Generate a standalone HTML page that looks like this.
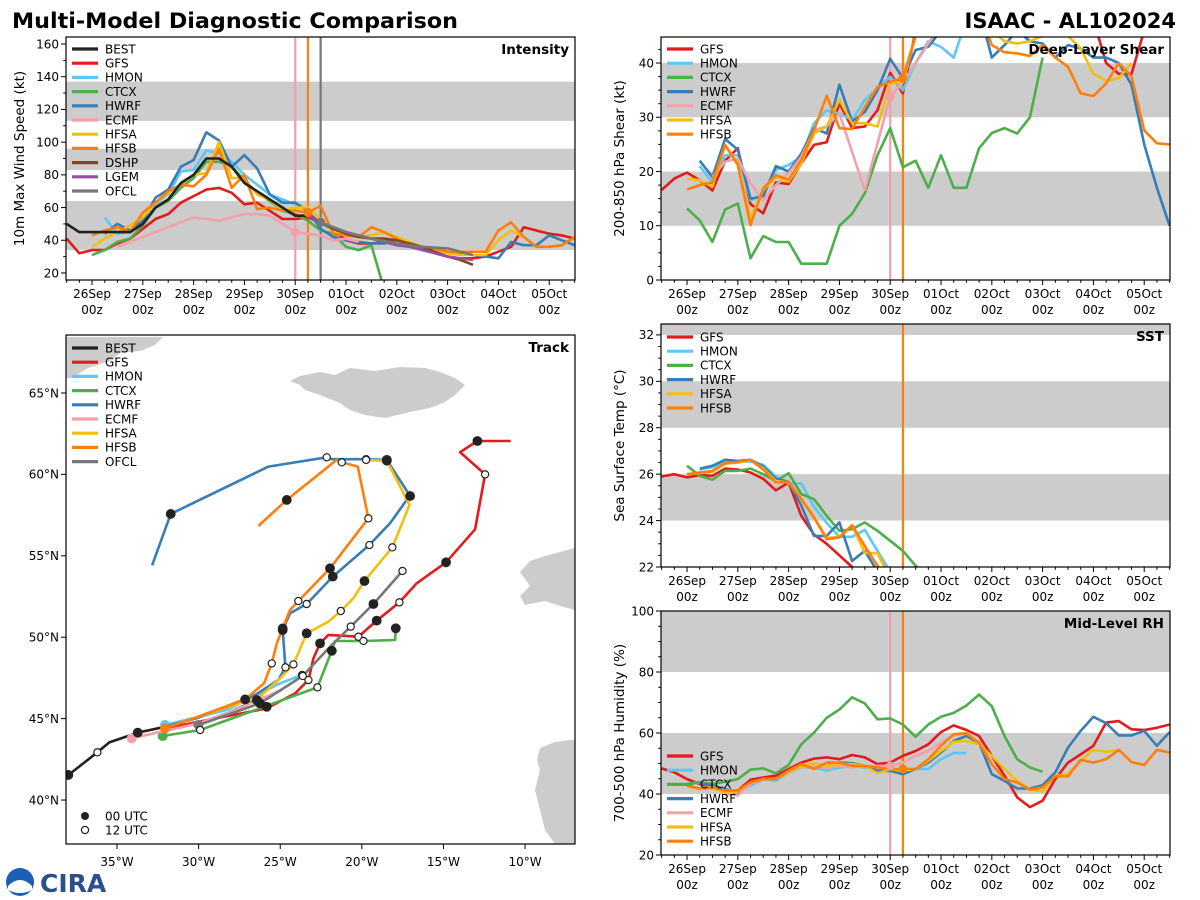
<!DOCTYPE html>
<html><head><meta charset="utf-8"><title>Multi-Model Diagnostic Comparison</title>
<style>
html,body{margin:0;padding:0;background:#fff;}
svg{display:block;font-family:"DejaVu Sans","Liberation Sans",sans-serif;}
</style></head>
<body>
<svg id="chart" width="1200" height="900" viewBox="0 0 1200 900" xmlns="http://www.w3.org/2000/svg">
<rect x="0" y="0" width="1200" height="900" fill="#fff"/>
<text x="12" y="28" font-size="21" font-weight="bold" textLength="446" lengthAdjust="spacingAndGlyphs">Multi-Model Diagnostic Comparison</text>
<text x="1176" y="28" font-size="21" font-weight="bold" text-anchor="end">ISAAC - AL102024</text>
<g>
<circle cx="20" cy="882" r="14" fill="#1a5fb4"/><path d="M8,886 Q20,874 32,886 L32,890 Q20,896 8,890Z" fill="#fff"/>
<text x="40" y="892" font-size="25" font-weight="bold" fill="#2a4f8a">CIRA</text>
</g>
</svg>
<script>
// ===== DATA (6-hourly steps relative to 26Sep 00z) =====
const dateLabels=['26Sep','27Sep','28Sep','29Sep','30Sep','01Oct','02Oct','03Oct','04Oct','05Oct'];
const intBEST=[50,45,45,45,45,45,50,60,65,75,80,90,90,85,75,70,65,60,55,55];
const intGFS=[41,32,34,34,38,41,47,53,56,63,67,71,72,69,62,63,58,53,53,54,51,46,40,38,38,39,41,38,35,32,30,29,29,30,33,36,48,46,44,43,41];
const intHMON=[54,44,45,50,62,68,82,83,95,93,88,80,74,68,65,62,58,50,46,43];
const intCTCX=[31,34,39,41,49,60,64,72,78,88,88,85,77,69,64,58,56,52,46,44,36,34,37,10];
const intHWRF=[44,50,46,52,66,71,85,89,106,101,85,92,84,68,63,63,58,47,42,40,39,38,38,40,38,35,34,33,32,31,30,29,39,37,37,43,40,37];
const intECMF=[36,39,42,45,48,51,54,53,52,54,56,56,55,50,45,44,43,40,41,39];
const intHFSA=[36,41,45,49,54,63,69,74,80,81,100,78,78,68,65,58,60,60,53,45,43,42,43,45,42,39,36,34,32,31,31,31,40,46,42];
const intHFSB=[43,46,48,45,57,63,70,74,73,80,96,72,80,59,60,58,58,57,61,44,43,42,48,45,41,37,36,35,33,33,33,33,46,51,42,36,36,37,42];
const intDSHP=[56,51,47,44,42,41,41,40,38,36,33,30,28,25];
const intLGEM=[55,51,48,45,43,41,39,37,36,34,32,30,29,28];
const intOFCL=[51,45,41,38,36,35,31];
const intStart={BEST:-2,GFS:-2,HMON:1,CTCX:0,HWRF:1,ECMF:2,HFSA:0,HFSB:0,DSHP:17,LGEM:17,OFCL:18};
const intStep={OFCL:2};

const shrGFS=[16.6,18.7,19.8,18.4,16.5,22,24.3,14,12.3,18,17.7,21.5,24.9,25.4,32.6,28,28.3,31.3,38.2,34.4,46,50,52,55,55,55,55,55,55,55,55,55,55,55,48,40,38,38,46,55];
const shrHMON=[21,18,23,23,14.7,15.7,20.3,21.2,22.7,28.9,31.3,30.7,29.5,33.2,35.3,37.5,35,40,44,43,41,48,52];
const shrCTCX=[13.2,11,7,13,14.1,4,8.1,7,7,3,3,3,10,12.2,16,23,28,20.8,22,17,23,17,17,24.3,27.1,28,27,30,41];
const shrHWRF=[22,19,26,24,15,15.4,21,20,23.3,28,27,36,29.2,31,35,40.8,37.2,42.4,43,46,50,52,50,41,43.3,46,44,43.6,41,43.3,42.7,41,41,40,36,25,17,10];
const shrECMF=[19,21.8,22.4,17.8,14.7,17.5,19.7,22.7,27.6,28.3,30.7,23.6,16.6,25.2,33.8,36.5,40,43.6,47];
const shrHFSA=[18.7,18.4,17.2,24.9,21.5,11.4,16.6,19,18.1,21.5,27,28.3,33.2,28.9,28.9,28.3,36.2,36.5,45,50,52,52,52,50,46,44,43.6,44,45,45.5,45,42.7,38,36.7,37.2,40];
const shrHFSB=[16.7,17.5,18,24.9,21.2,10.1,16.9,19.3,18.5,22.1,27.6,34,28,27.8,31.9,35.6,36.5,37.2,45,50,52,52,52,50,43.3,42,41.8,41.3,43.3,41,39.3,34.4,33.9,36.2,40,37.5,27.6,25.2,25];
const shrStart={GFS:-2,HMON:1,CTCX:0,HWRF:1,ECMF:2,HFSA:0,HFSB:0};

const sstGFS=[25.9,26,25.86,25.96,25.93,26.24,26.2,26.07,25.8,25.3,25.64,24.2,23.4,23,22.5,22,21.5];
const sstHMON=[26.2,26.3,26.5,26.55,26.55,26.4,25.9,25.6,25.6,24.6,23.9,23.3,23.3,23.6,22.7,21.8];
const sstCTCX=[26.36,25.93,25.76,26.14,26.14,26.24,26,25.7,26.04,25.14,24.92,24.2,23.56,23.63,23.92,23.56,23.13,22.7,22.05,21.6];
const sstHWRF=[26.24,26.36,26.62,26.57,26.62,26.33,25.8,25.67,24.64,23.34,23.34,23.92,22.26,22.7,21.8];
const sstHFSA=[26,26.05,26.1,26.45,26.5,26.6,26.25,25.7,25.65,24.95,24.15,23.25,23.3,23.8,22.6,22.6,21.5];
const sstHFSB=[26,26.07,26.14,26.47,26.53,26.62,26.2,25.64,25.67,24.92,24.13,23.2,23.27,23.8,22.9,22.05,21.5];
const sstStart={GFS:-2,HMON:1,CTCX:0,HWRF:1,HFSA:0,HFSB:0};

const rhGFS=[48.4,47.1,44.9,43.3,42.2,40.8,41.1,44.7,45.4,46,48.2,50.3,51.6,52,51.4,52.8,52,49.8,50.3,52.5,54.1,56.3,60.3,62.5,61,59,52.5,46,38.9,35.7,37.8,44.9,50.3,53,55.8,63.4,63.9,61.2,61,61.7,62.8];
const rhHMON=[43.3,44,42.2,40.5,40.5,42.7,44.9,44.3,47.1,48.7,48.7,47.6,48.7,49.2,48.7,48.2,48.2,47.6,48.2,48.2,51.4,53.4,53.4];
const rhCTCX=[43.3,43.8,43.3,44,44.9,48,48.4,46.8,49.5,56.3,60.1,65,67.7,71.7,69.7,64.5,64.8,62.8,58.8,62.8,65.3,66.6,69,72.6,68.8,59,51.4,48.7,47.3];
const rhHWRF=[43.6,42.9,41.6,40.5,43.3,44.9,45.1,47.6,49.2,48.7,49.2,50.3,50.1,49.2,47.6,47.6,46.5,48.2,50.3,53.6,57.4,59,56.8,46.5,44.3,41.8,41.8,42.9,47.1,55.2,60.7,65.3,63.2,59.2,59.2,60.7,55.8,60.3];
const rhECMF=[42.2,40,39.5,43.3,44.9,44.9,47.6,48.7,49.2,48.4,49.2,48.7,49.2,49.2,49.2,50.3,52.5,54.1,56.8,59.2,59.9];
const rhHFSA=[42.7,41.6,41.8,40.5,40.8,43.8,44.9,44.9,47.1,49.2,50.1,49.2,49.8,49.8,49.2,46.8,48.2,47.6,48.2,50.9,54.1,57.1,57.4,56.3,52.5,48.2,44.3,41.6,40.8,46,46.5,50.9,54.5,53.8,54.5];
const rhHFSB=[42.7,41.8,42.2,41.1,41.1,43.8,44.9,44.9,47.6,49.8,48.2,50.3,50.3,49.2,49.2,48.7,48.2,48.2,48.2,51.4,55.8,59.6,59.9,56.8,49.8,44.9,43.8,41.4,42.2,45.8,45.8,51.2,50.3,51.4,54.5,50.5,49.5,54.5,53.6];
const rhStart={GFS:-2,HMON:0,CTCX:0,HWRF:1,ECMF:2,HFSA:0,HFSB:0};

// track positions (lon, lat) and 00/12 UTC markers
const trkBESTlon=[-37.98,-36.20,-35.47,-33.73,-32.06,-30.01,-28.28,-26.44,-25.83];
const trkBESTlat=[41.54,42.93,43.54,44.14,44.50,44.71,45.32,46.14,45.73];
const trkBESTmk=['f','o','','f','','','','f','f'];
const trkGFSlon=[-32.06,-25.83,-24.09,-23.27,-22.97,-22.56,-22.05,-20.21,-19.09,-17.70,-16.64,-14.84,-13.06,-12.45,-13.98,-12.92,-10.88];
const trkGFSlat=[44.40,45.63,46.55,47.37,48.70,49.62,50.14,50.03,51.02,52.14,53.31,54.60,56.63,60.00,61.36,62.05,62.05];
const trkGFSmk=['','','','o','','f','','o','f','o','','f','','o','','f',''];
const trkHMONlon=[-32.06,-28.28,-25.01,-23.66];
const trkHMONlat=[44.61,45.53,47.17,47.68];
const trkHMONmk=['','','','o'];
const trkCTCXlon=[-32.20,-29.91,-22.72,-21.84,-21.64,-19.90,-17.96,-17.92];
const trkCTCXlat=[43.93,44.30,46.92,49.17,49.77,49.77,49.83,50.55];
const trkCTCXmk=['','o','o','f','','o','','f'];
const trkHWRFlon=[-32.06,-30.12,-26.54,-25.11,-24.68,-24.85,-24.40,-23.38,-21.78,-19.54,-18.27,-17.25,-17.04,-18.47,-19.74,-21.84,-22.15,-25.72,-31.71,-32.85];
const trkHWRFlat=[44.50,45.02,46.45,47.37,48.15,50.44,51.47,52.04,53.72,55.66,57.00,58.43,58.67,60.89,60.93,60.93,61.05,60.48,57.57,54.41];
const trkHWRFmk=['','','','','o','f','','o','f','o','','','f','f','o','','o','','f',''];
const trkECMFlon=[-34.10,-30.01,-28.28,-24.91];
const trkECMFlat=[43.79,44.71,45.32,46.76];
const trkECMFmk=['','','',''];
const trkHFSAlon=[-32.06,-30.32,-26.24,-25.01,-24.19,-23.38,-22.05,-21.29,-20.52,-19.84,-18.13,-17.08,-18.47,-19.74];
const trkHFSAlat=[44.40,45.02,46.35,47.47,48.33,50.24,50.95,51.61,52.39,53.45,55.52,58.12,60.84,60.89];
const trkHFSAmk=['','','','','o','f','','o','','f','o','','f','o'];
const trkHFSBlon=[-32.06,-30.32,-27.15,-25.99,-25.52,-25.21,-24.85,-24.40,-23.89,-21.95,-19.60,-20.25,-21.23,-21.54,-22.56,-24.60,-26.34];
const trkHFSBlat=[44.40,45.02,46.18,47.17,48.39,49.62,50.54,51.67,52.22,54.23,57.30,60.48,60.74,60.89,60.07,58.43,56.83];
const trkHFSBmk=['','','f','','o','','f','','o','f','o','','o','','','f',''];
const trkOFCLlon=[-30.01,-26.24,-23.62,-21.95,-20.68,-19.29,-17.51];
const trkOFCLlat=[44.61,45.94,47.62,49.42,50.65,52.04,54.07];
const trkOFCLmk=['','f','o','','o','f','o'];

// ===== STYLE =====
const COL={BEST:'#222222',GFS:'#e41a1c',HMON:'#5bc8f5',CTCX:'#4daf4a',HWRF:'#377eb8',ECMF:'#f4a0ab',HFSA:'#f2be0f',HFSB:'#ff7f0e',DSHP:'#8b4513',LGEM:'#984ea3',OFCL:'#777777'};
const NS='http://www.w3.org/2000/svg';
const svg=document.getElementById('chart');
function mk(tag,attrs,parent){const e=document.createElementNS(NS,tag);for(const k in attrs)e.setAttribute(k,attrs[k]);(parent||svg).appendChild(e);return e;}
function txt(s,attrs,parent){const e=mk('text',attrs,parent);e.textContent=s;return e;}

function makePanel(p){
  p.sx=v=>p.l+(v-p.xmin)/(p.xmax-p.xmin)*(p.r-p.l);
  p.sy=v=>p.b-(v-p.ymin)/(p.ymax-p.ymin)*(p.b-p.t);
  const g=mk('g',{});
  
  
  p.g=g;
  const cp=mk('clipPath',{id:'clip-'+p.name},g);
  mk('rect',{x:p.l,y:p.t,width:p.r-p.l,height:p.b-p.t},cp);
  p.clipG=mk('g',{'clip-path':'url(#clip-'+p.name+')'},g);
  (p.bands||[]).forEach(b=>{
    const r=mk('rect',{x:p.l,y:p.sy(b[1]),width:p.r-p.l,height:p.sy(b[0])-p.sy(b[1]),fill:'#cccccc'},p.clipG);
    
    
  });
  return p;
}
function frame(p){
  const f=mk('rect',{x:p.l,y:p.t,width:p.r-p.l,height:p.b-p.t,fill:'none',stroke:'#000','stroke-width':1.2},p.g);
  
  
  const t=txt(p.title,{x:p.r-6,y:p.t+17,'font-size':13.5,'font-weight':'bold','text-anchor':'end'},p.g);
  
  
}
function timeAxis(p){
  const ax=mk('g',{},p.g);
  
  
  for(let s=-2;s<=38;s++){
    const x=p.sx(s); const major=(s%4===0);
    mk('line',{x1:x,x2:x,y1:p.b,y2:p.b+(major?5:2.8),stroke:'#000','stroke-width':1},ax);
  }
  dateLabels.forEach((d,i)=>{
    const x=p.sx(i*4);
    const t1=txt(d,{x:x,y:p.b+18,'font-size':12,'text-anchor':'middle'},ax);
    
    
    const t2=txt('00z',{x:x,y:p.b+34,'font-size':12,'text-anchor':'middle'},ax);
    
    
  });
}
function yAxis(p,major,minor,label,lx){
  const ax=mk('g',{},p.g);
  
  
  const eps=1e-6;
  for(let v=Math.ceil(p.ymin/minor)*minor;v<=p.ymax+eps;v+=minor){
    const y=p.sy(v); const isMaj=Math.abs(v/major-Math.round(v/major))<1e-6;
    mk('line',{x1:p.l,x2:p.l-(isMaj?5:2.8),y1:y,y2:y,stroke:'#000','stroke-width':1},ax);
    if(isMaj){
      const t=txt(String(Math.round(v)),{x:p.l-7,y:y+4.3,'font-size':12,'text-anchor':'end'},ax);
      
      
    }
  }
  const cy=(p.t+p.b)/2;
  const t=txt(label,{x:lx,y:cy,'font-size':13.5,'text-anchor':'middle',transform:'rotate(-90 '+lx+' '+cy+')'},ax);
  
  
}
function series(p,key,vals,start,step){
  step=step||1;
  const pts=vals.map((v,i)=>p.sx(start+i*step).toFixed(1)+','+p.sy(v).toFixed(1)).join(' ');
  const l=mk('polyline',{points:pts,fill:'none',stroke:COL[key],'stroke-width':2.6,'stroke-linejoin':'round'},p.clipG);
  
  
}
function vline(p,s,color,key){
  const l=mk('line',{x1:p.sx(s),x2:p.sx(s),y1:p.t,y2:p.b,stroke:color,'stroke-width':2.2},p.clipG);
  
  
}
function dot(p,x,y,color,r){
  const c=mk('circle',{cx:x,cy:y,r:r||4.5,fill:color},p.clipG);
  
  
}
function legend(p,keys,y0){
  const lg=mk('g',{},p.g);
  
  
  keys.forEach((k,i)=>{
    const y=y0+i*14.2;
    const e=mk('g',{},lg);
    
    
    mk('line',{x1:p.l+6,x2:p.l+32,y1:y,y2:y,stroke:COL[k],'stroke-width':3.2},e);
    txt(k,{x:p.l+39,y:y+4.3,'font-size':12},e);
  });
}
function valAt(arr,start,s,step){step=step||1;return arr[(s-start)/step];}

// ===== INTENSITY =====
const pI=makePanel({name:'intensity',title:'Intensity',l:66,t:37,r:575,b:280,xmin:-2.05,xmax:38.03,ymin:15.7,ymax:164.3,bands:[[34,64],[83,96],[113,137]]});
const intData={GFS:intGFS,HMON:intHMON,CTCX:intCTCX,HWRF:intHWRF,ECMF:intECMF,HFSA:intHFSA,HFSB:intHFSB,DSHP:intDSHP,LGEM:intLGEM,OFCL:intOFCL,BEST:intBEST};
vline(pI,16,COL.ECMF,'ecmf');vline(pI,17,COL.HFSB,'hfsb');vline(pI,18,COL.OFCL,'ofcl');
Object.keys(intData).forEach(k=>series(pI,k,intData[k],intStart[k],intStep[k]));
dot(pI,pI.sx(16),pI.sy(valAt(intECMF,intStart.ECMF,16)),COL.ECMF);
dot(pI,pI.sx(17),pI.sy(valAt(intHFSB,intStart.HFSB,17)),COL.HFSB);
dot(pI,pI.sx(18),pI.sy(valAt(intOFCL,intStart.OFCL,18,2)),COL.OFCL);
frame(pI);timeAxis(pI);yAxis(pI,20,10,'10m Max Wind Speed (kt)',24);
legend(pI,['BEST','GFS','HMON','CTCX','HWRF','ECMF','HFSA','HFSB','DSHP','LGEM','OFCL'],49);

// ===== SHEAR =====
const pS=makePanel({name:'shear',title:'Deep-Layer Shear',l:661,t:37,r:1170,b:280,xmin:-2.05,xmax:38.03,ymin:0,ymax:44.8,bands:[[10,20],[30,40]]});
const shrData={GFS:shrGFS,HMON:shrHMON,CTCX:shrCTCX,HWRF:shrHWRF,ECMF:shrECMF,HFSA:shrHFSA,HFSB:shrHFSB};
vline(pS,16,COL.ECMF,'ecmf');vline(pS,17,COL.HFSB,'hfsb');
Object.keys(shrData).forEach(k=>series(pS,k,shrData[k],shrStart[k]));
dot(pS,pS.sx(16),pS.sy(valAt(shrECMF,shrStart.ECMF,16)),COL.ECMF);
dot(pS,pS.sx(17),pS.sy(valAt(shrHFSB,shrStart.HFSB,17)),COL.HFSB);
frame(pS);timeAxis(pS);yAxis(pS,10,2.5,'200-850 hPa Shear (kt)',624);
legend(pS,['GFS','HMON','CTCX','HWRF','ECMF','HFSA','HFSB'],49);

// ===== SST =====
const pT=makePanel({name:'sst',title:'SST',l:661,t:324,r:1170,b:567,xmin:-2.05,xmax:38.03,ymin:22,ymax:32.47,bands:[[24,26],[28,30],[32,34]]});
const sstData={GFS:sstGFS,HMON:sstHMON,CTCX:sstCTCX,HWRF:sstHWRF,HFSA:sstHFSA,HFSB:sstHFSB};
vline(pT,17,COL.HFSB,'hfsb');
Object.keys(sstData).forEach(k=>series(pT,k,sstData[k],sstStart[k]));
frame(pT);timeAxis(pT);yAxis(pT,2,0.5,'Sea Surface Temp (°C)',624);
legend(pT,['GFS','HMON','CTCX','HWRF','HFSA','HFSB'],337);

// ===== RH =====
const pR=makePanel({name:'rh',title:'Mid-Level RH',l:661,t:611,r:1170,b:855,xmin:-2.05,xmax:38.03,ymin:20,ymax:100,bands:[[40,60],[80,100]]});
const rhData={GFS:rhGFS,HMON:rhHMON,CTCX:rhCTCX,HWRF:rhHWRF,ECMF:rhECMF,HFSA:rhHFSA,HFSB:rhHFSB};
vline(pR,16,COL.ECMF,'ecmf');vline(pR,17,COL.HFSB,'hfsb');
Object.keys(rhData).forEach(k=>series(pR,k,rhData[k],rhStart[k]));
dot(pR,pR.sx(16),pR.sy(valAt(rhECMF,rhStart.ECMF,16)),COL.ECMF);
dot(pR,pR.sx(17),pR.sy(valAt(rhHFSB,rhStart.HFSB,17)),COL.HFSB);
frame(pR);timeAxis(pR);yAxis(pR,20,5,'700-500 hPa Humidity (%)',624);
legend(pR,['GFS','HMON','CTCX','HWRF','ECMF','HFSA','HFSB'],756);

// ===== TRACK =====
const pK=makePanel({name:'track',title:'Track',l:66,t:335,r:575,b:844,xmin:-38.125,xmax:-6.94,ymin:37.3,ymax:68.56});
const land=[
 '66,337 163,337 155,345 140,351 120,353 110,361 88,368 72,378 66,378',
 '290,381 300,376 320,372 335,375 350,368 375,371 400,367 425,368 440,372 455,378 465,385 455,395 445,402 430,408 410,412 385,418 365,415 350,410 340,403 320,395 305,390 300,385',
 '520,572 530,561 545,556 560,552 575,548 575,610 560,606 545,601 525,605 520,596 530,586',
 '540,748 555,742 570,740 575,740 575,844 555,844 545,830 540,810 535,790 540,770 537,760'];
land.forEach(pt=>{
  const l=mk('polygon',{points:pt,fill:'#cccccc'},pK.clipG);
  
  
});
const trk={BEST:[trkBESTlon,trkBESTlat,trkBESTmk],GFS:[trkGFSlon,trkGFSlat,trkGFSmk],HMON:[trkHMONlon,trkHMONlat,trkHMONmk],CTCX:[trkCTCXlon,trkCTCXlat,trkCTCXmk],HWRF:[trkHWRFlon,trkHWRFlat,trkHWRFmk],ECMF:[trkECMFlon,trkECMFlat,trkECMFmk],HFSA:[trkHFSAlon,trkHFSAlat,trkHFSAmk],HFSB:[trkHFSBlon,trkHFSBlat,trkHFSBmk],OFCL:[trkOFCLlon,trkOFCLlat,trkOFCLmk]};
Object.keys(trk).forEach(k=>{
  const [lo,la]=trk[k];
  const pts=lo.map((v,i)=>pK.sx(v).toFixed(1)+','+pK.sy(la[i]).toFixed(1)).join(' ');
  const l=mk('polyline',{points:pts,fill:'none',stroke:COL[k],'stroke-width':2.6,'stroke-linejoin':'round'},pK.clipG);
  
  
  if(k!=='BEST'&&k!=='GFS'&&k!=='HWRF'&&k!=='HFSA') dot(pK,pK.sx(lo[0]),pK.sy(la[0]),COL[k],5);
});
Object.keys(trk).forEach(k=>{
  const [lo,la,m]=trk[k];
  m.forEach((t,i)=>{
    if(!t)return;
    const c=mk('circle',{cx:pK.sx(lo[i]),cy:pK.sy(la[i]),r:t==='f'?4.3:3.6,fill:t==='f'?'#222':'#fff',stroke:'#222','stroke-width':1.2},pK.clipG);
    
    
  });
});
frame(pK);
const kx=mk('g',{},pK.g);


[-35,-30,-25,-20,-15,-10].forEach(v=>{
  const x=pK.sx(v);
  mk('line',{x1:x,x2:x,y1:pK.b,y2:pK.b+5,stroke:'#000'},kx);
  const t=txt(Math.abs(v)+'°W',{x:x,y:pK.b+22,'font-size':12,'text-anchor':'middle'},kx);
  
  
});
const ky=mk('g',{},pK.g);


[40,45,50,55,60,65].forEach(v=>{
  const y=pK.sy(v);
  mk('line',{x1:pK.l,x2:pK.l-5,y1:y,y2:y,stroke:'#000'},ky);
  const t=txt(v+'°N',{x:pK.l-7,y:y+4.3,'font-size':12,'text-anchor':'end'},ky);
  
  
});
legend(pK,['BEST','GFS','HMON','CTCX','HWRF','ECMF','HFSA','HFSB','OFCL'],348);
const ml=mk('g',{},pK.g);


mk('circle',{cx:85,cy:816,r:4,fill:'#222'},ml);
txt('00 UTC',{x:105,y:820.5,'font-size':12},ml);
mk('circle',{cx:85,cy:830,r:3.6,fill:'#fff',stroke:'#222','stroke-width':1.2},ml);
txt('12 UTC',{x:105,y:834.5,'font-size':12},ml);
</script>
</body></html>
